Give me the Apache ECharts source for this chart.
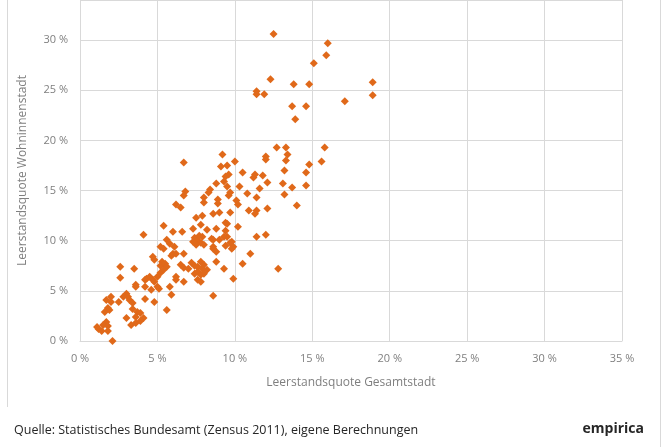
<!DOCTYPE html>
<html>
<head>
<meta charset="utf-8">
<script src="https://cdn.jsdelivr.net/npm/echarts@6/dist/echarts.min.js"></script>
<style>
  html, body { margin: 0; padding: 0; background: #fff; }
  #main { width: 670px; height: 447px; }
</style>
</head>
<body>
<div id="main"></div>
<script>
// Leerstandsquote Gesamtstadt (x) vs. Wohninnenstadt (y), in %
var obereStaedte = [
  [12.5,30.6],[16.0,29.7],[15.9,28.5],[15.1,27.7],[12.3,26.1],[13.8,25.6],[14.8,25.6],[11.4,24.9],
  [11.4,24.6],[11.9,24.6],[13.7,23.4],[14.6,23.4],[13.9,22.1],[18.9,25.8],[18.9,24.5],[17.1,23.9]
];
var mittlereStaedte = [
  [12.7,19.3],[13.3,19.3],[15.8,19.3],[13.4,18.6],[13.3,18.0],[15.6,17.9],[14.8,17.6],[6.7,17.8],
  [9.2,18.6],[9.1,17.4],[9.5,17.5],[10.0,17.9],[12.0,18.4],[12.0,18.1],[13.2,17.0],[10.5,16.8],
  [9.6,16.6],[9.4,16.4],[11.3,16.6],[11.2,16.3],[11.8,16.5],[14.6,16.8],[9.3,15.9],[12.1,15.8],
  [13.1,15.7],[8.8,15.7],[6.8,14.9],[6.7,14.5],[8.4,15.1],[8.3,14.8],[9.5,15.4],[10.3,15.4],
  [11.6,15.2],[13.7,15.3],[14.6,15.5],[13.2,14.6],[8.0,14.3],[9.6,14.5],[10.8,14.7],[11.4,14.3],
  [8.9,14.1],[9.7,14.8],[10.1,14.0],[8.0,13.8],[8.9,13.7],[6.2,13.6],[6.5,13.3],[10.2,13.6],
  [14.0,13.5],[12.1,13.2],[10.9,13.0],[11.4,13.0],[8.6,12.7],[9.0,12.8],[9.7,12.8],[7.5,12.3],
  [11.3,12.7],[7.9,12.5]
];
var untereStaedte = [
  [9.4,11.8],[5.4,11.5],[4.1,10.6],[6.0,10.9],[6.6,10.9],[7.3,11.2],[8.2,11.1],[10.2,11.4],
  [9.4,11.0],[7.8,11.6],[8.8,11.2],[9.5,11.7],[5.6,10.1],[5.8,9.7],[6.1,9.4],[5.2,9.4],[5.4,9.2],
  [7.4,10.3],[7.6,10.0],[7.8,9.8],[7.5,9.6],[7.9,10.4],[8.0,9.6],[7.3,9.9],[7.7,10.5],
  [8.5,10.2],[8.6,10.1],[9.0,10.1],[9.5,10.4],[9.8,9.9],[9.4,9.5],[9.9,9.4],[9.3,10.4],[9.7,9.8],
  [9.8,9.2],[11.4,10.4],[12.0,10.6],[8.6,9.4],[8.8,8.9],[8.6,9.2],
  [6.7,8.7],[6.0,8.7],[5.9,8.5],[6.2,8.7],[4.7,8.4],[4.8,8.1],[5.3,7.9],[5.2,7.5],[5.5,7.7],
  [5.6,7.4],[6.5,7.6],[6.7,7.3],[7.4,7.5],[7.6,7.4],[7.8,7.9],[8.0,7.6],[8.2,7.1],[7.4,6.7],
  [7.6,6.9],[7.8,6.6],[7.2,7.8],[7.0,7.2],[7.9,7.2],[8.8,7.9],[9.3,7.2],[10.5,7.7],[11.0,8.7],
  [12.8,7.2],[9.9,6.2],[7.6,6.1],[7.8,5.9],[8.0,6.7],[6.7,5.9],[6.2,6.1],[6.2,6.4],[5.8,5.4],
  [5.9,4.6],[8.6,4.5],[5.6,3.1],[4.8,3.9],[5.1,5.2],[4.8,5.9],[4.7,6.1],[5.0,6.4],[5.2,6.8],
  [5.4,7.1],[5.0,5.4],[4.6,5.1],[4.3,6.2],[4.2,6.1],[4.5,6.4],[4.2,4.2],[4.2,5.4],
  [3.6,5.6],[3.6,5.4],[3.5,7.2],[2.6,7.4],[2.6,6.3],[2.0,4.4],[2.0,3.9],[1.7,4.1],[2.5,3.9],
  [2.8,4.4],[3.0,4.7],[3.1,4.4],[3.2,4.1],[3.4,3.8],[3.4,3.2],[3.0,2.3],[3.7,2.9],[3.9,2.8],
  [4.1,2.3],[3.6,2.4],[3.3,1.6],[3.6,1.8],[3.9,2.0],[1.8,3.3],[1.6,2.9],[1.9,3.1],[1.7,1.9],
  [1.5,1.6],[1.8,1.5],[1.8,1.0],[1.1,1.4],[1.2,1.2],[1.4,1.0],[2.1,0.0]
];
var xTicks = [0, 5, 10, 15, 20, 25, 30, 35];
var yTicks = [0, 5, 10, 15, 20, 25, 30];
var yOben = 34;   // Diagramm oben angeschnitten

var punkte = obereStaedte.concat(mittlereStaedte, untereStaedte);

/********* Streudiagramm *********/
var myChart = echarts.init(document.getElementById("main"));

var option = {
  animation : false,
  textStyle : { fontFamily : "Open Sans" },
  grid : { left : 80, right : 48, top : 0, bottom : 106 },
  xAxis : {
    type : "value",
    min : xTicks[0],
    max : xTicks[xTicks.length - 1],
    interval : 5,
    name : "Leerstandsquote Gesamtstadt",
    nameLocation : "middle",
    nameGap : 36,
    nameTextStyle : { color : "#7f7f7f", fontSize : 12 },
    axisLine : { show : true, lineStyle : { color : "#d9d9d9" } },
    axisTick : { show : false },
    splitLine : { show : true, lineStyle : { color : "#d9d9d9" } },
    axisLabel : { color : "#7f7f7f", fontSize : 11, margin : 12, formatter : "{value} %" }
  },
  yAxis : {
    type : "value",
    min : yTicks[0],
    max : yOben,
    interval : 5,
    name : "Leerstandsquote Wohninnenstadt",
    nameLocation : "middle",
    nameGap : 51,
    nameTextStyle : { color : "#7f7f7f", fontSize : 12 },
    axisLine : { show : true, lineStyle : { color : "#d9d9d9" } },
    axisTick : { show : false },
    splitLine : { show : true, lineStyle : { color : "#d9d9d9" } },
    axisLabel : {
      color : "#7f7f7f", fontSize : 11, margin : 12,
      formatter : function(v){ return yTicks.indexOf(v) >= 0 ? v + " %" : ""; }
    }
  },
  series : [
    {
      type : "scatter",
      symbol : "diamond",
      symbolSize : 8,
      data : punkte,
      itemStyle : { color : "#e0691a", opacity : 1 }
    }
  ],
  graphic : [
    { type : "line", shape : { x1 : 7.5, y1 : 0, x2 : 7.5, y2 : 407 }, style : { stroke : "#d9d9d9", lineWidth : 1 } },
    { type : "line", shape : { x1 : 660.5, y1 : 0, x2 : 660.5, y2 : 447 }, style : { stroke : "#d9d9d9", lineWidth : 1 } },
    { type : "text", left : 14, top : 424, style : { text : "Quelle: Statistisches Bundesamt (Zensus 2011), eigene Berechnungen", fill : "#262626", font : "12.5px 'Open Sans'" } },
    { type : "text", right : 26, top : 422, style : { text : "empirica", fill : "#262626", font : "bold 14px 'Open Sans'" } }
  ]
};

myChart.setOption(option);
</script>
</body>
</html>
